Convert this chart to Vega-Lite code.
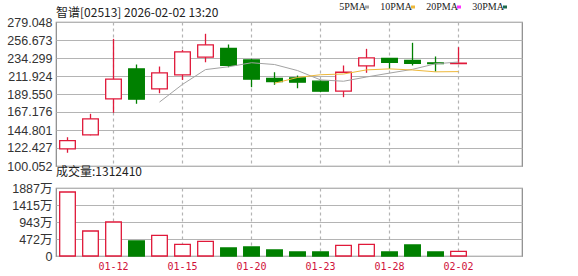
{
  "$schema": "https://vega.github.io/schema/vega-lite/v6.json",
  "background": "white",
  "padding": {"left": 6, "top": 2, "right": 4, "bottom": 2},
  "datasets": {
    "k": [
      {"d": "01-08", "o": 121.4, "h": 135.8, "l": 116.5, "c": 131.7, "v": 1776},
      {"d": "01-09", "o": 138.8, "h": 164.9, "l": 138.2, "c": 158.7, "v": 694},
      {"d": "01-12", "o": 183.5, "h": 258.1, "l": 166.2, "c": 208.0, "v": 943},
      {"d": "01-13", "o": 220.8, "h": 226.2, "l": 177.4, "c": 183.1, "v": 416},
      {"d": "01-14", "o": 196.0, "h": 223.7, "l": 190.5, "c": 215.9, "v": 574},
      {"d": "01-15", "o": 213.4, "h": 244.2, "l": 207.0, "c": 242.0, "v": 324},
      {"d": "01-16", "o": 235.3, "h": 264.4, "l": 229.0, "c": 250.7, "v": 407},
      {"d": "01-19", "o": 246.1, "h": 251.1, "l": 222.8, "c": 225.3, "v": 222},
      {"d": "01-20", "o": 232.0, "h": 233.3, "l": 198.0, "c": 208.0, "v": 250},
      {"d": "01-21", "o": 208.8, "h": 216.6, "l": 201.0, "c": 205.1, "v": 166},
      {"d": "01-22", "o": 209.7, "h": 212.5, "l": 196.7, "c": 204.2, "v": 111},
      {"d": "01-23", "o": 205.5, "h": 206.5, "l": 191.8, "c": 193.0, "v": 111},
      {"d": "01-26", "o": 193.0, "h": 225.0, "l": 185.6, "c": 216.6, "v": 296},
      {"d": "01-27", "o": 224.6, "h": 245.7, "l": 215.9, "c": 234.5, "v": 324},
      {"d": "01-28", "o": 233.7, "h": 234.0, "l": 220.9, "c": 229.0, "v": 111},
      {"d": "01-29", "o": 231.2, "h": 253.2, "l": 225.0, "c": 227.8, "v": 305},
      {"d": "01-30", "o": 228.3, "h": 236.2, "l": 217.5, "c": 227.4, "v": 111},
      {"d": "02-02", "o": 227.4, "h": 247.7, "l": 227.0, "c": 228.0, "v": 131}
    ],
    "ma": [
      {"d": "01-14", "ma": "5PMA", "v": 179.5},
      {"d": "01-15", "ma": "5PMA", "v": 201.5},
      {"d": "01-16", "ma": "5PMA", "v": 219.9},
      {"d": "01-19", "ma": "5PMA", "v": 223.4},
      {"d": "01-20", "ma": "5PMA", "v": 228.4},
      {"d": "01-21", "ma": "5PMA", "v": 226.2},
      {"d": "01-22", "ma": "5PMA", "v": 218.7},
      {"d": "01-23", "ma": "5PMA", "v": 207.1},
      {"d": "01-26", "ma": "5PMA", "v": 205.4},
      {"d": "01-27", "ma": "5PMA", "v": 210.7},
      {"d": "01-28", "ma": "5PMA", "v": 215.5},
      {"d": "01-29", "ma": "5PMA", "v": 220.2},
      {"d": "01-30", "ma": "5PMA", "v": 227.1},
      {"d": "02-02", "ma": "5PMA", "v": 229.3},
      {"d": "01-21", "ma": "10PMA", "v": 202.9},
      {"d": "01-22", "ma": "10PMA", "v": 210.1},
      {"d": "01-23", "ma": "10PMA", "v": 213.5},
      {"d": "01-26", "ma": "10PMA", "v": 214.4},
      {"d": "01-27", "ma": "10PMA", "v": 219.5},
      {"d": "01-28", "ma": "10PMA", "v": 220.8},
      {"d": "01-29", "ma": "10PMA", "v": 219.4},
      {"d": "01-30", "ma": "10PMA", "v": 217.1},
      {"d": "02-02", "ma": "10PMA", "v": 217.4}
    ]
  },
  "config": {
    "view": {"stroke": "#888888", "strokeWidth": 1.2},
    "axis": {"labelFont": "Liberation Sans, Noto Sans CJK SC", "labelFontSize": 12.5, "labelColor": "#333333", "tickSize": 0, "domainOpacity": 0, "grid": true, "gridColor": "#b4b4b4", "gridOpacity": 1, "gridWidth": 1.2, "labelFlush": false, "labelOverlap": false},
    "title": {"fontWeight": "normal", "fontSize": 12, "font": "Noto Sans CJK SC", "color": "#222222", "anchor": "start", "frame": "group"}
  },
  "bounds": "flush",
  "spacing": 22,
  "vconcat": [
    {
      "width": 466,
      "height": 144,
      "title": {"text": "智谱[02513] 2026-02-02 13:20", "offset": -4},
      "encoding": {
        "x": {"field": "d", "type": "ordinal",
          "scale": {"type": "band", "domain": ["01-08","01-09","01-12","01-13","01-14","01-15","01-16","01-19","01-20","01-21","01-22","01-23","01-26","01-27","01-28","01-29","01-30","02-02","02-03","02-04"], "paddingInner": 0, "paddingOuter": 0.13, "align": 0},
          "axis": {"title": null, "labels": false, "grid": true, "gridDash": [3, 3], "bandPosition": 0.5, "values": ["01-12","01-15","01-20","01-23","01-28","02-02"]}}
      },
      "layer": [
        {
          "data": {"name": "k"},
          "mark": {"type": "rule", "strokeWidth": 1.3},
          "encoding": {
            "y": {"field": "l", "type": "quantitative",
              "scale": {"domain": [100.052, 279.048], "nice": false, "zero": false},
              "axis": {"title": null, "values": [100.052, 122.427, 144.801, 167.176, 189.55, 211.924, 234.299, 256.673, 279.048], "format": ".3f", "labelPadding": 4, "grid": true}},
            "y2": {"field": "h"},
            "color": {"condition": {"test": "datum.c >= datum.o", "value": "#e0193a"}, "value": "#008000"}
          }
        },
        {
          "data": {"name": "k"},
          "mark": {"type": "bar", "width": {"band": 0.68}, "strokeWidth": 1.3},
          "encoding": {
            "y": {"field": "o", "type": "quantitative",
              "scale": {"domain": [100.052, 279.048], "nice": false, "zero": false},
              "axis": {"title": null, "values": [100.052, 122.427, 144.801, 167.176, 189.55, 211.924, 234.299, 256.673, 279.048], "format": ".3f", "labelPadding": 4, "grid": true}},
            "y2": {"field": "c"},
            "fill": {"condition": {"test": "datum.c >= datum.o", "value": "#ffffff"}, "value": "#008000"},
            "stroke": {"condition": {"test": "datum.c >= datum.o", "value": "#e0193a"}, "value": "#008000"}
          }
        },
        {
          "data": {"name": "ma"},
          "mark": {"type": "line", "strokeWidth": 1},
          "encoding": {
            "y": {"field": "v", "type": "quantitative",
              "scale": {"domain": [100.052, 279.048], "nice": false, "zero": false},
              "axis": {"title": null, "values": [100.052, 122.427, 144.801, 167.176, 189.55, 211.924, 234.299, 256.673, 279.048], "format": ".3f", "labelPadding": 4, "grid": true}},
            "color": {"field": "ma", "type": "nominal",
              "scale": {"domain": ["5PMA", "10PMA", "20PMA", "30PMA"], "range": ["#a3a3a3", "#eeb83a", "#ff33ff", "#1d6b4e"]},
              "legend": {"orient": "none", "legendX": 306, "legendY": -20, "direction": "horizontal", "title": null,
                "labelFont": "Liberation Serif", "labelFontSize": 10, "labelColor": "#222222",
                "symbolType": "stroke", "symbolStrokeWidth": 3, "symbolSize": 16,
                "labelAlign": "right", "labelOffset": -6, "columnPadding": 5, "labelLimit": 0}}
          }
        }
      ]
    },
    {
      "width": 466,
      "height": 68,
      "title": {"text": "成交量:1312410", "offset": 3},
      "data": {"name": "k"},
      "mark": {"type": "bar", "width": {"band": 0.68}, "strokeWidth": 1.3},
      "encoding": {
        "x": {"field": "d", "type": "ordinal",
          "scale": {"type": "band", "domain": ["01-08","01-09","01-12","01-13","01-14","01-15","01-16","01-19","01-20","01-21","01-22","01-23","01-26","01-27","01-28","01-29","01-30","02-02","02-03","02-04"], "paddingInner": 0, "paddingOuter": 0.13, "align": 0},
          "axis": {"title": null, "grid": true, "gridDash": [3, 3], "bandPosition": 0.5, "values": ["01-12","01-15","01-20","01-23","01-28","02-02"], "labelFont": "DejaVu Sans Mono", "labelFontSize": 10, "labelColor": "#d0103a", "labelPadding": 5, "labelAngle": 0}},
        "y": {"field": "v", "type": "quantitative",
          "scale": {"domain": [0, 1886.9], "nice": false},
          "axis": {"title": null, "values": [0, 471.725, 943.45, 1415.175, 1886.9], "labelExpr": "datum.value == 0 ? '0' : format(round(datum.value), 'd') + '万'", "labelPadding": 4, "grid": true}},
        "fill": {"condition": {"test": "datum.c >= datum.o", "value": "#ffffff"}, "value": "#008000"},
        "stroke": {"condition": {"test": "datum.c >= datum.o", "value": "#e0193a"}, "value": "#008000"}
      }
    }
  ]
}
